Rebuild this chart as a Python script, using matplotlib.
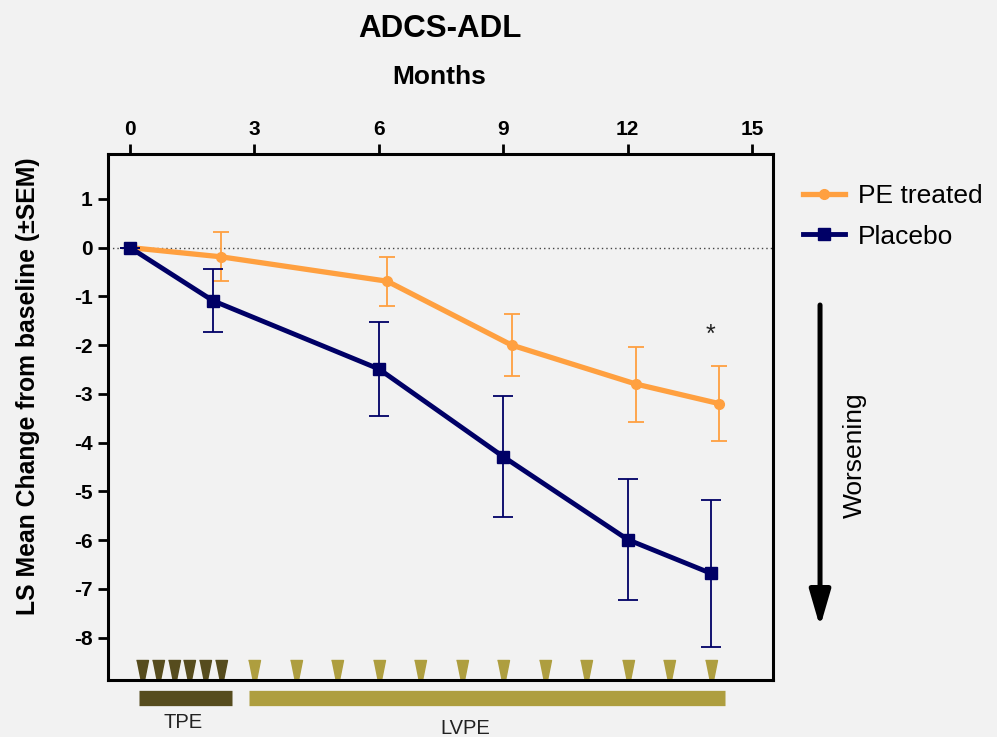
import matplotlib
matplotlib.use("Agg")
import matplotlib.pyplot as plt
from matplotlib.lines import Line2D
from matplotlib.transforms import blended_transform_factory

plt.rcParams['font.family'] = ['Liberation Sans', 'DejaVu Sans']
plt.rcParams['axes.unicode_minus'] = False

# data
months_pe = [0, 2.2, 6.2, 9.2, 12.2, 14.2]
mean_pe = [0, -0.19, -0.69, -2.0, -2.8, -3.2]
sem_pe = [0, 0.5, 0.5, 0.64, 0.77, 0.77]

months_pl = [0, 2.0, 6.0, 9.0, 12.0, 14.0]
mean_pl = [0, -1.09, -2.49, -4.29, -5.99, -6.68]
sem_pl = [0, 0.65, 0.97, 1.24, 1.24, 1.51]

tpe_doses = [0.3, 0.68, 1.05, 1.43, 1.82, 2.2]
lvpe_doses = [3, 4, 5, 6, 7, 8, 9, 10, 11, 12, 13, 14]
tpe_span = [0.22, 2.46]
lvpe_span = [2.86, 14.34]

x_ticks = [0, 3, 6, 9, 12, 15]
y_ticks = [1, 0, -1, -2, -3, -4, -5, -6, -7, -8]

orange = '#FFA040'
navy = '#000066'
tpe_col = '#564c1e'
lvpe_col = '#ae9e3f'
bg = '#f2f2f2'

fig = plt.figure(figsize=(9.97, 7.37), dpi=100, facecolor=bg)
ax = fig.add_axes([0.1083, 0.0773, 0.667, 0.7138], facecolor=bg)

ax.axhline(0, color='#444444', lw=1.0, ls=(0, (1, 2.2)), zorder=1)

ax.errorbar(months_pe, mean_pe, yerr=sem_pe, color=orange, lw=3.8, marker='o',
            ms=7, elinewidth=1.3, capsize=6, capthick=1.3, zorder=3)
ax.errorbar(months_pl, mean_pl, yerr=sem_pl, color=navy, lw=3.5, marker='s',
            ms=9, elinewidth=1.3, capsize=7, capthick=1.3, zorder=4)

ax.text(14.0, -1.8, '*', fontsize=18, ha='center', va='center', color='#222222')

# dosing triangles
tri = [(-0.6, 1), (0.6, 1), (0.22, -0.9), (0, -1), (-0.22, -0.9)]
trans = blended_transform_factory(ax.transData, ax.transAxes)
ax.plot(tpe_doses, [0.019] * len(tpe_doses), ls='none', marker=tri, ms=14.4,
        color=tpe_col, transform=trans, clip_on=False)
ax.plot(lvpe_doses, [0.019] * len(lvpe_doses), ls='none', marker=tri, ms=14.4,
        color=lvpe_col, transform=trans, clip_on=False)

# treatment bars under the axis
ax.plot(tpe_span, [-0.034, -0.034], color=tpe_col, lw=11, transform=trans,
        clip_on=False, solid_capstyle='butt')
ax.plot(lvpe_span, [-0.034, -0.034], color=lvpe_col, lw=11, transform=trans,
        clip_on=False, solid_capstyle='butt')
ax.text(1.28, -0.081, 'TPE', transform=trans, ha='center', va='center',
        fontsize=14.5, color='#222222')
ax.text(8.08, -0.092, 'LVPE', transform=trans, ha='center', va='center',
        fontsize=14.5, color='#222222')

ax.set_xlim(-0.53, 15.5)
ax.set_ylim(-8.87, 1.92)
ax.xaxis.tick_top()
ax.set_xticks(x_ticks)
ax.set_yticks(y_ticks)
ax.tick_params(axis='both', width=2, length=7, labelsize=15, pad=4)
for lab in ax.get_xticklabels() + ax.get_yticklabels():
    lab.set_fontweight('bold')
for s in ax.spines.values():
    s.set_linewidth(2.2)

fig.text(0.441, 0.960, 'ADCS-ADL', ha='center', va='center', fontsize=22.5, fontweight='bold')
fig.text(0.441, 0.895, 'Months', ha='center', va='center', fontsize=19, fontweight='bold')
fig.text(0.028, 0.476, 'LS Mean Change from baseline (\u00b1SEM)', rotation=90,
         ha='center', va='center', fontsize=17.8, fontweight='bold')

handles = [Line2D([], [], color=orange, lw=3.8, marker='o', ms=7),
           Line2D([], [], color=navy, lw=3.5, marker='s', ms=9)]
fig.legend(handles, ['PE treated', 'Placebo'], loc='upper left',
           bbox_to_anchor=(0.805, 0.750), frameon=False,
           fontsize=19, handlelength=1.6, handletextpad=0.5, labelspacing=0.62,
           borderpad=0, borderaxespad=0)

ax.annotate('', xy=(0.8225, 1 - 627 / 737), xytext=(0.8225, 1 - 305 / 737),
            xycoords='figure fraction', textcoords='figure fraction',
            arrowprops=dict(arrowstyle='-|>,head_length=1.1,head_width=0.32',
                            lw=3.6, color='black', mutation_scale=20, shrinkA=0, shrinkB=0))
fig.text(0.857, 0.3826, 'Worsening', rotation=90, ha='center', va='center', fontsize=19)

fig.savefig('out.png', dpi=100, facecolor=bg)
